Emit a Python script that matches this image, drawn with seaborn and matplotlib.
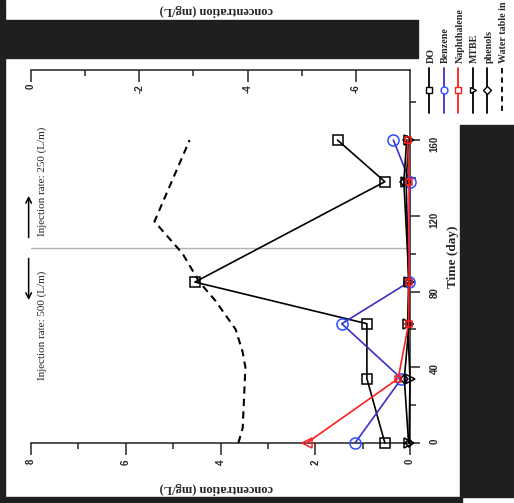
import matplotlib
matplotlib.use("Agg")
import matplotlib.pyplot as plt
from matplotlib.patches import Rectangle
from matplotlib.lines import Line2D
import seaborn as sns

# sampling days and concentrations (mg/L)
days = [0, 34, 63, 85, 138, 160]
do_conc = [0.53, 0.91, 0.91, 4.54, 0.53, 1.53]
benzene = [1.16, 0.18, 1.44, 0.02, 0.0, 0.35]
naphthalene = [2.18, 0.25, 0.03, 0.02, 0.02, 0.05]
mtbe = [0.02, 0.0, 0.05, 0.03, 0.08, 0.03]
phenols = [0.03, 0.12, 0.02, 0.02, 0.13, 0.07]

# water table (top axis)
wt_days = [0, 8, 40, 48, 60, 75, 85, 100, 117, 160]
water_table = [-3.83, -3.91, -3.96, -3.91, -3.78, -3.41, -3.11, -2.80, -2.28, -2.93]

rate_change_day = 103
rate_labels = ["Injection rate: 500 (L/m)", "Injection rate: 250 (L/m)"]

conc_ticks = [0, 2, 4, 6, 8]
day_ticks = [0, 40, 80, 120, 160]
wt_ticks = [0, -2, -4, -6]

sns.set_style("white")
plt.rcParams["font.family"] = ["Liberation Sans", "DejaVu Sans"]
plt.rcParams["font.weight"] = "bold"
plt.rcParams["axes.unicode_minus"] = False

W, H = 514, 503
fig = plt.figure(figsize=(W / 100, H / 100), dpi=100)
fig.patch.set_facecolor("white")

# dark scan borders
dark = "#1e1f21"
for x0, y0, x1, y1 in [(0, 20, 418, 58), (0, 0, 5, 503), (0, 497, 462, 503), (460, 125, 514, 497)]:
    fig.patches.append(Rectangle((x0 / W, 1 - y1 / H), (x1 - x0) / W, (y1 - y0) / H,
                                 transform=fig.transFigure, color=dark, zorder=0))

# chart is drawn turned: concentration runs right->left, time runs upward
ax = fig.add_axes([31 / W, (H - 443) / H, (410 - 31) / W, (443 - 70) / H])
ax.set_facecolor("white")

series = [
    dict(name="DO", y=do_conc, color="black", mec="black", marker="s", ms=6.5, z=3),
    dict(name="Benzene", y=benzene, color="#3b30c4", mec="#2a4dff", marker="o", ms=8, z=4),
    dict(name="Naphthalene", y=naphthalene, color="#ff1f1f", mec="#ff1f1f", marker="s", ms=5, z=7),
    dict(name="MTBE", y=mtbe, color="black", mec="black", marker=">", ms=6.5, z=5),
    dict(name="phenols", y=phenols, color="black", mec="black", marker="D", ms=4.5, z=6),
]

for s in series:
    kw = dict(markevery=[1, 2, 3, 4, 5]) if s["name"] == "Naphthalene" else {}
    sns.lineplot(x=s["y"], y=days, ax=ax, orient="y", sort=False, estimator=None,
                 color=s["color"], lw=1.2, marker=s["marker"], markersize=s["ms"],
                 markerfacecolor="none", markeredgecolor=s["mec"], markeredgewidth=1.1,
                 clip_on=False, zorder=s["z"], **kw)
# first naphthalene sample shown with a triangle
ax.plot(naphthalene[:1], days[:1], ls="none", marker="<", ms=7.5, mfc="none",
        mec="#ff1f1f", mew=1.1, clip_on=False, zorder=7)

ax.axhline(rate_change_day, color="#b0b0b0", lw=1, zorder=1)

ax.set_xlim(8, 0)
ax.set_ylim(0, 197)
ax.set_xticks(conc_ticks)
ax.set_xticks([1, 3, 5, 7], minor=True)
ax.set_yticks(day_ticks)
ax.set_yticks([20, 60, 100, 140, 180], minor=True)
ax.yaxis.tick_right()
ax.yaxis.set_label_position("right")

for side in ["left", "top"]:
    ax.spines[side].set_visible(False)
for side in ["bottom", "right"]:
    ax.spines[side].set_linewidth(1.1)
    ax.spines[side].set_color("#222222")

ax.tick_params(axis="x", which="major", direction="out", length=8.6, width=1.1,
               labelrotation=90, labelsize=7, pad=3, bottom=True)
ax.tick_params(axis="x", which="minor", direction="out", length=4.3, width=1.1, bottom=True)
ax.tick_params(axis="y", which="major", direction="out", length=7.5, width=1.1,
               labelrotation=90, labelsize=7, pad=6.5, right=True, left=False)
ax.tick_params(axis="y", which="minor", direction="out", length=4, width=1.1, right=True, left=False)

ax.set_xlabel("concentration (mg/L)", family="Liberation Serif", weight="bold",
              size=9, rotation=180, va="center", ha="center")
ax.xaxis.set_label_coords(0.49, -0.121)
ax.set_ylabel("Time (day)", family="Liberation Serif", weight="bold",
              size=9.5, rotation=90, va="center", ha="center")
ax.yaxis.set_label_coords(1.113, 0.5)

# top axis for the water table
ax2 = ax.twiny()
sns.lineplot(x=water_table, y=wt_days, ax=ax2, orient="y", sort=False, estimator=None,
             color="black", lw=1.5, linestyle=(0, (3.5, 2.5)), zorder=2)
ax2.set_xlim(0, -7)
ax2.set_ylim(0, 197)
ax2.set_xticks(wt_ticks)
ax2.set_xticks([-1, -3, -5], minor=True)
for side in ["left", "bottom", "right"]:
    ax2.spines[side].set_visible(False)
ax2.spines["top"].set_linewidth(1.1)
ax2.spines["top"].set_color("#222222")
ax2.tick_params(axis="x", which="major", direction="in", length=8.6, width=1.1,
                labelrotation=90, labelsize=7, pad=-10, top=True)
ax2.tick_params(axis="x", which="minor", direction="in", length=4.3, width=1.1, top=True)
plt.setp(ax2.get_xticklabels(), va="top")
ax2.set_xlabel("concentration (mg/L)", family="Liberation Serif", weight="bold",
               size=9, rotation=180, va="center", ha="center")
ax2.xaxis.set_label_coords(0.49, 1.161)

# injection-rate notes
ax.text(7.76, 62, rate_labels[0], rotation=90, ha="center", va="center",
        family="Liberation Serif", weight="normal", size=8)
ax.text(7.76, 138, rate_labels[1], rotation=90, ha="center", va="center",
        family="Liberation Serif", weight="normal", size=8)
ax.annotate("", xy=(8.05, 74), xytext=(8.05, 99), annotation_clip=False,
            arrowprops=dict(arrowstyle="->", lw=1.1, color="black"))
ax.annotate("", xy=(8.05, 132), xytext=(8.05, 107), annotation_clip=False,
            arrowprops=dict(arrowstyle="->", lw=1.1, color="black"))

# legend, turned like the chart
legend_items = series + [dict(name="Water table in", color="black", mec=None, marker=None, ms=0)]
for i, s in enumerate(legend_items):
    xp = (429 + 14.5 * i) / W
    ls = (0, (3, 2.2)) if s["marker"] is None else "-"
    fig.add_artist(Line2D([xp, xp], [1 - 68 / H, 1 - 113 / H], transform=fig.transFigure,
                          color=s["color"], lw=1.3, ls=ls))
    if s["marker"] is not None:
        ms = 5 if s["name"] == "Benzene" else 4.5
        fig.add_artist(Line2D([xp], [1 - 90 / H], transform=fig.transFigure, ls="none",
                              marker=s["marker"], ms=ms, mfc="white", mec=s["mec"], mew=1))
    fig.text(xp + 2 / W, 1 - 63 / H, s["name"], rotation=90, ha="center", va="bottom",
             family="Liberation Serif", weight="bold", size=7.2)

fig.savefig("out.png", dpi=100)
